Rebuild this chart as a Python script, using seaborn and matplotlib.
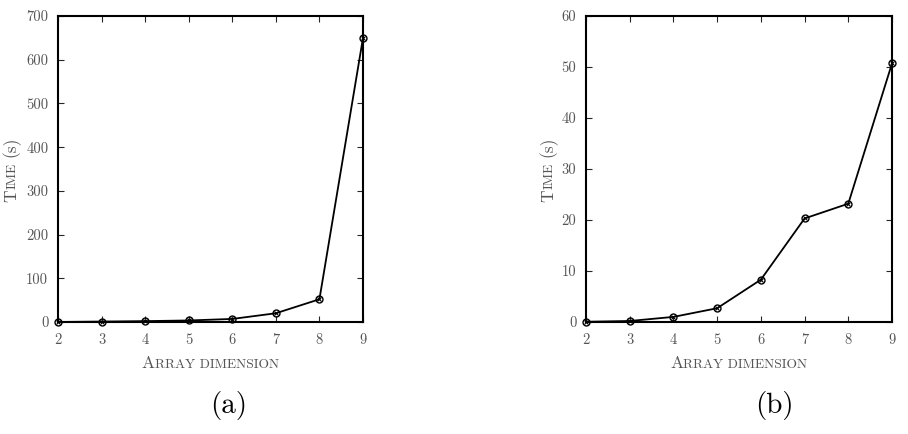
import numpy as np
import pandas as pd
import matplotlib
matplotlib.use("Agg")
import matplotlib.pyplot as plt
import seaborn as sns

# ---- data ----
dims = [2, 3, 4, 5, 6, 7, 8, 9]
time_a = [0.1, 1.0, 2.0, 3.5, 7.0, 20.0, 52.0, 650.0]
time_b = [0.05, 0.2, 1.0, 2.7, 8.3, 20.3, 23.2, 50.7]
yticks_a = [0, 100, 200, 300, 400, 500, 600, 700]
yticks_b = [0, 10, 20, 30, 40, 50, 60]
xticks = [2, 3, 4, 5, 6, 7, 8, 9]
panel_labels = ["(a)", "(b)"]

sns.set_style("ticks")
plt.rcParams["font.family"] = ["cmr10", "DejaVu Serif"]
plt.rcParams["axes.unicode_minus"] = False

W, H = 908, 434
fig = plt.figure(figsize=(W / 100, H / 100), dpi=100)

LABEL_COLOR = "#555555"
TICK_SIZE = 10.5
BIG = 12.5
SMALL = 9.7


def add_axes(left, right, top, bottom):
    return fig.add_axes([left / W, 1 - bottom / H, (right - left) / W, (bottom - top) / H])


axA = add_axes(58, 363, 16, 322)
axB = add_axes(586, 892, 16, 322)

for ax, vals, yt in [(axA, time_a, yticks_a), (axB, time_b, yticks_b)]:
    df = pd.DataFrame({"dim": dims, "time": vals})
    sns.lineplot(data=df, x="dim", y="time", ax=ax, color="black", lw=1.3,
                 marker="o", markersize=5, markerfacecolor="none",
                 markeredgecolor="black", markeredgewidth=1.0, clip_on=False, zorder=3)
    ax.plot(df["dim"], df["time"], ls="none", marker="x", ms=2.6, mew=0.8,
            color="black", clip_on=False, zorder=4)
    ax.set_xlim(2, 9)
    ax.set_ylim(yt[0], yt[-1])
    ax.set_xticks(xticks)
    ax.set_yticks(yt)
    ax.set_xlabel("")
    ax.set_ylabel("")
    ax.tick_params(direction="in", length=4, width=0.8, top=True, right=True,
                   labelsize=TICK_SIZE, labelcolor=LABEL_COLOR)
    ax.tick_params(axis="x", pad=8)
    ax.tick_params(axis="y", pad=7)
    for s in ax.spines.values():
        s.set_linewidth(1.5)
        s.set_color("black")

fig.canvas.draw()
renderer = fig.canvas.get_renderer()


def measure(pieces):
    widths = []
    for s, size, gap in pieces:
        t = fig.text(0, 0, s, fontsize=size)
        widths.append(t.get_window_extent(renderer).width + gap)
        t.remove()
    return widths


def smallcaps_horizontal(pieces, center_px, base_px):
    widths = measure(pieces)
    pos = center_px - sum(widths) / 2
    for (s, size, gap), w in zip(pieces, widths):
        fig.text((pos + gap) / W, 1 - base_px / H, s, fontsize=size,
                 ha="left", va="baseline", color=LABEL_COLOR)
        pos += w


def smallcaps_vertical(pieces, center_ypx, base_xpx):
    widths = measure(pieces)
    pos = (H - center_ypx) - sum(widths) / 2
    for (s, size, gap), w in zip(pieces, widths):
        fig.text(base_xpx / W, (pos + gap) / H, s, fontsize=size, rotation=90,
                 rotation_mode="anchor", ha="left", va="baseline", color=LABEL_COLOR)
        pos += w


xlabel_pieces = [("A", BIG, 0), ("RRAY DIMENSION", SMALL, 0)]
ylabel_pieces = [("T", BIG, 0), ("IME", SMALL, 0), ("(s)", BIG, 6)]

smallcaps_horizontal(xlabel_pieces, 210.5, 368)
smallcaps_horizontal(xlabel_pieces, 739, 368)
smallcaps_vertical(ylabel_pieces, 169, 16)
smallcaps_vertical(ylabel_pieces, 169, 553)

fig.text(229 / W, 1 - 413 / H, panel_labels[0], fontsize=21, ha="center", va="baseline", color="black")
fig.text(774.5 / W, 1 - 413 / H, panel_labels[1], fontsize=21, ha="center", va="baseline", color="black")

fig.savefig("out.png", dpi=100)
